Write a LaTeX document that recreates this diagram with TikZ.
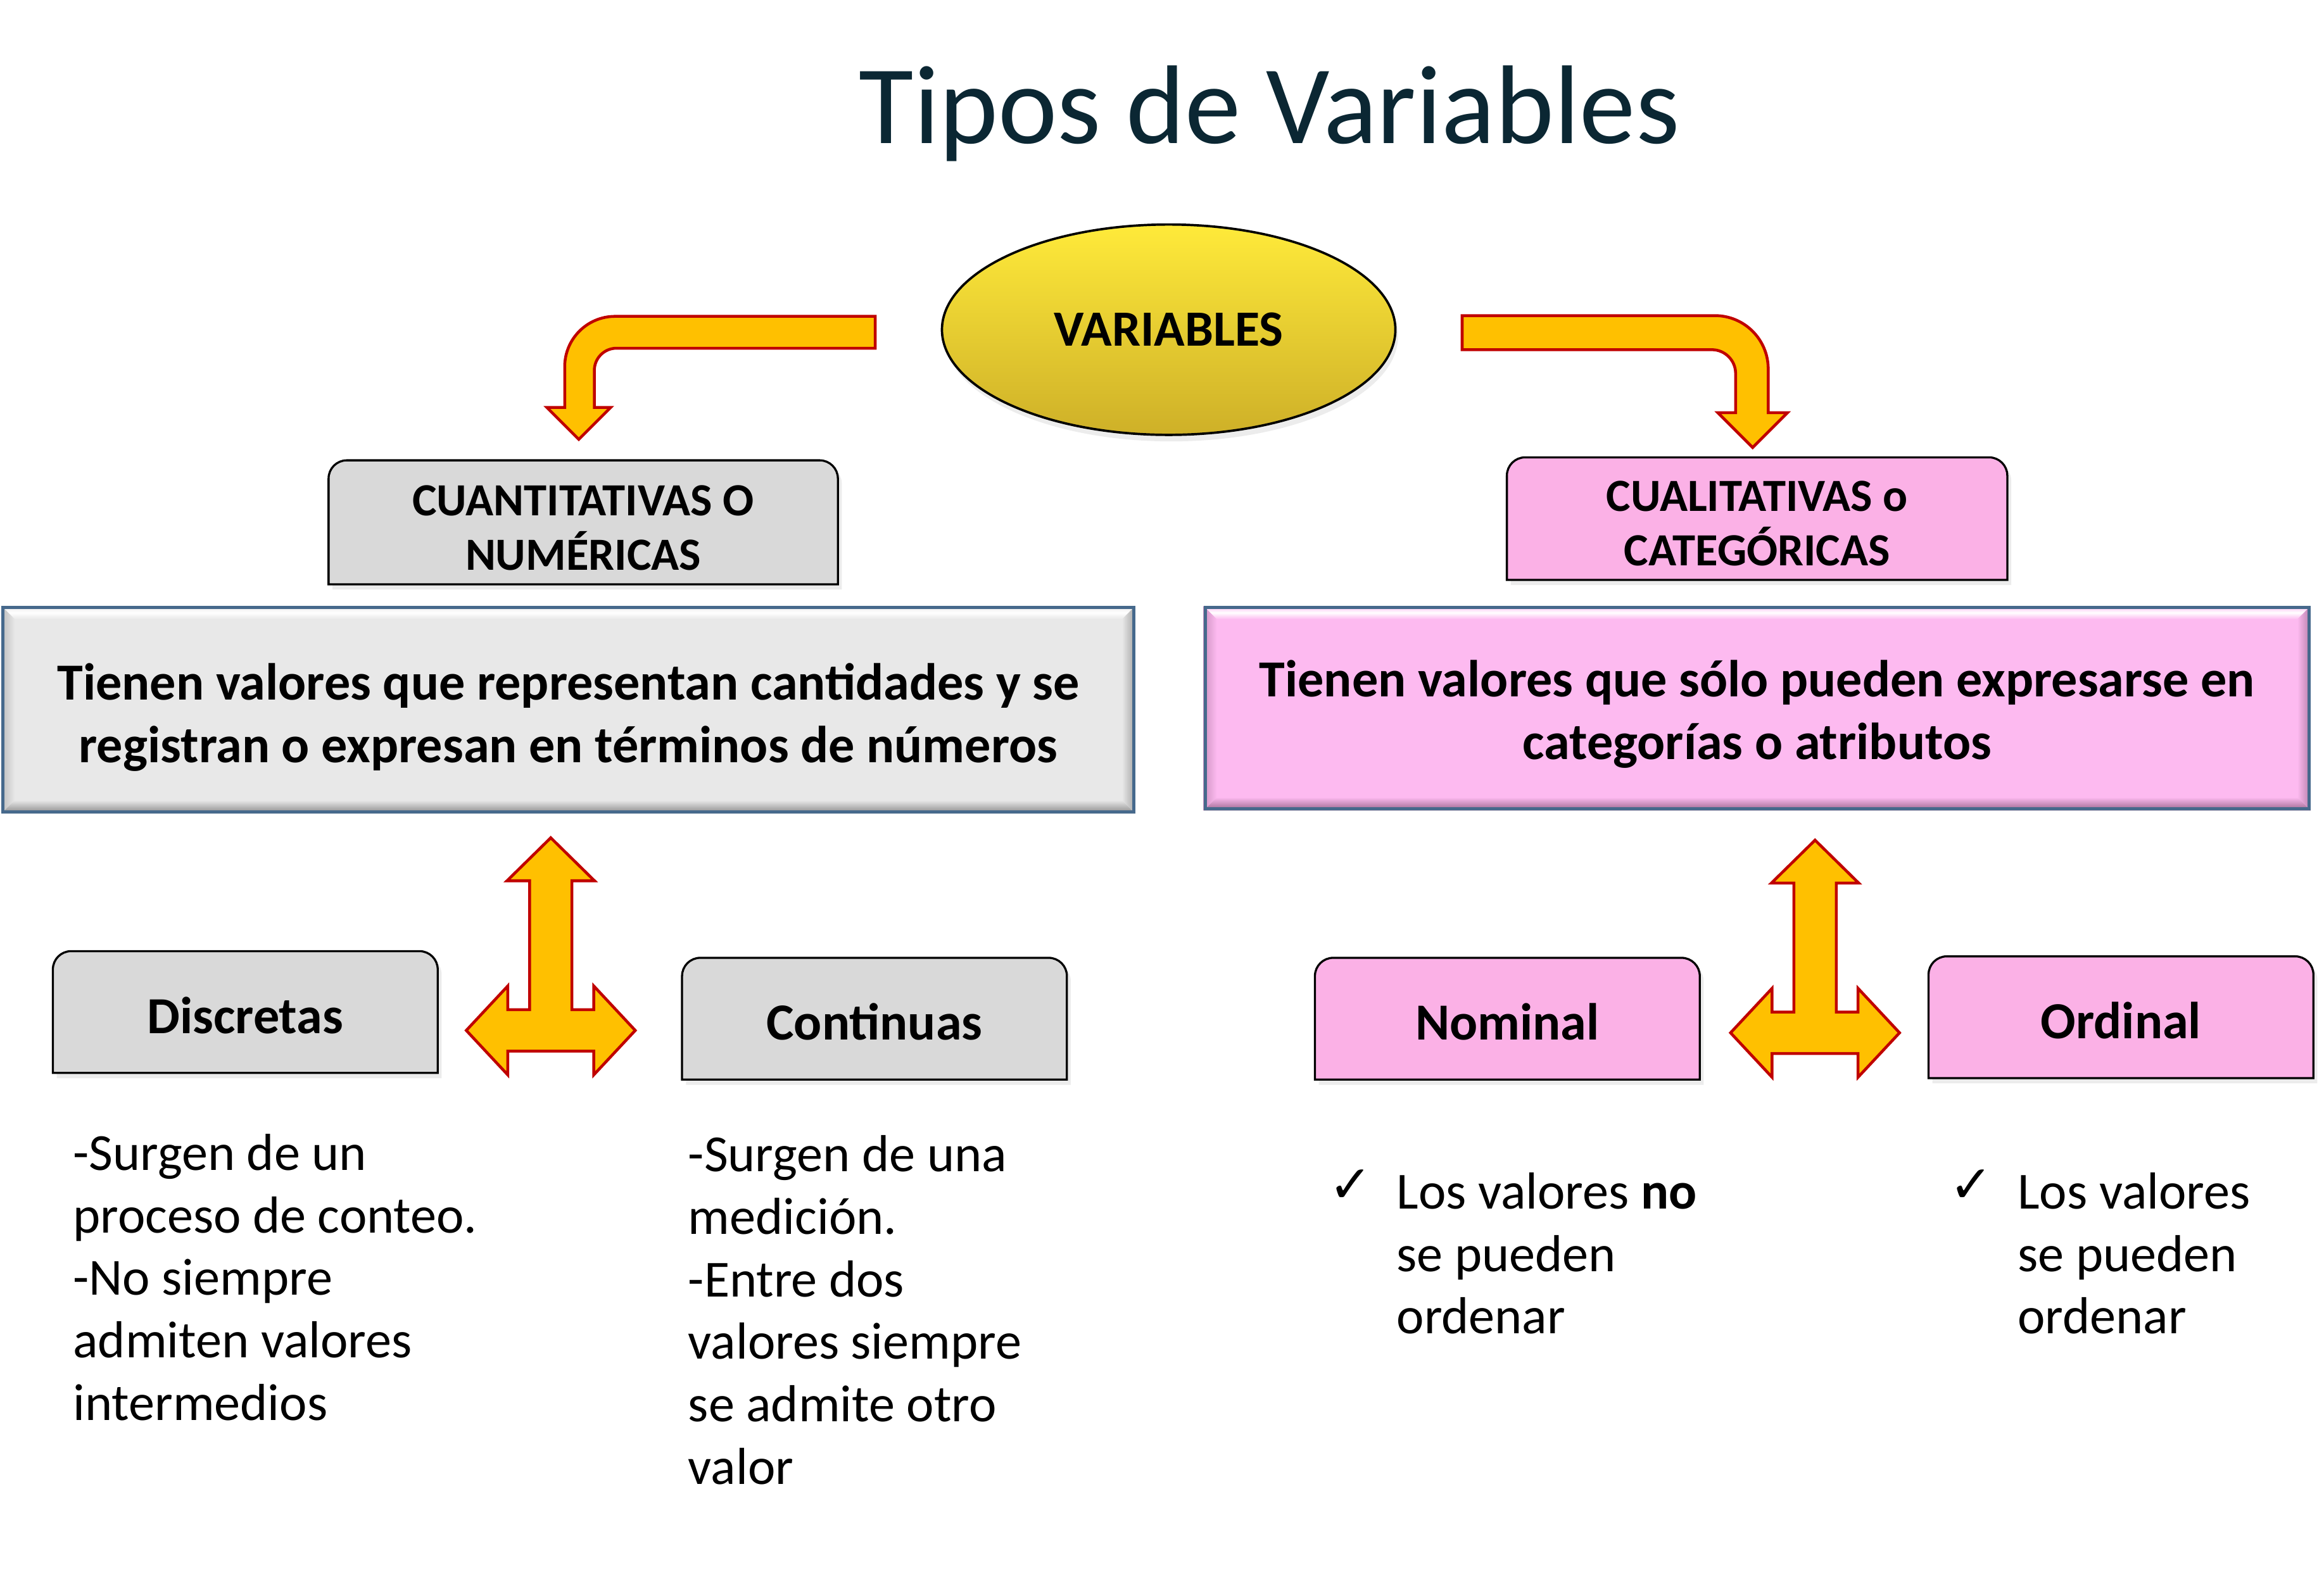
\documentclass[tikz,border=0pt]{standalone}
\usepackage{fontspec}
\setmainfont{Carlito}
\newfontfamily\symbfont{DejaVu Sans}
\usetikzlibrary{positioning, shapes.geometric, shadows, backgrounds}

\pgfdeclarelayer{canvas}
\pgfsetlayers{canvas,background,main}

\definecolor{arrowfill}{RGB}{255,192,0}
\definecolor{arrowline}{RGB}{192,0,0}
\definecolor{tabgrey}{RGB}{217,217,217}
\definecolor{tabpink}{RGB}{251,177,230}
\definecolor{biggrey}{RGB}{232,232,232}
\definecolor{biggreydark}{RGB}{135,135,135}
\definecolor{bigpink}{RGB}{253,186,240}
\definecolor{bigpinkdark}{RGB}{150,100,138}
\definecolor{bigline}{RGB}{70,105,140}
\definecolor{titleblue}{RGB}{11,39,51}
\definecolor{varstop}{RGB}{255,234,58}
\definecolor{varsbot}{RGB}{206,176,40}

\newcommand{\toplift}[1]{\rule{0pt}{#1}}

\tikzset{
  blockarrow/.style={fill=arrowfill, draw=arrowline, line width=1.1pt, line join=miter},
  tabbox/.style={inner sep=0pt, align=center, minimum width=5.18cm, minimum height=1.63cm,
    font=\bfseries\fontsize{20}{24}\selectfont, execute at begin node={\rule{0pt}{16.5pt}}},
  headbox/.style={inner sep=0pt, align=center, font=\bfseries\fontsize{17.7}{21}\selectfont},
  defbox/.style={inner sep=0pt, align=center, draw=bigline, line width=1.2pt,
    font=\bfseries\fontsize{20}{24}\selectfont},
  notes/.style={inner sep=0pt, align=left, anchor=north west, font=\fontsize{20}{24}\selectfont},
  tick/.style={inner sep=0pt, font=\symbfont\fontsize{20}{20}\selectfont},
  tarrow/.pic={
    \draw[blockarrow] (0,-130) -- (29.5,-101) -- (14.3,-101) -- (14.3,-14) -- (29,-14) -- (29,-30)
      -- (57,0) -- (29,30) -- (29,14) -- (-29,14) -- (-29,30) -- (-57,0) -- (-29,-30) -- (-29,-14)
      -- (-14.3,-14) -- (-14.3,-101) -- (-29.5,-101) -- cycle;
  }
}

\begin{document}
\begin{tikzpicture}[x=0.02cm, y=-0.02cm]
    \useasboundingbox (0,0) rectangle (1568,1064);
    \begin{pgfonlayer}{canvas}
      \fill[white] (0,0) rectangle (1568,1064);
    \end{pgfonlayer}

    % Title and root
    \node[anchor=base, text=titleblue, font=\fontsize{43}{50}\selectfont] (title) at (856.5,96.8) {Tipos de Variables};
    \node[ellipse, draw, line width=0.9pt, top color=varstop, bottom color=varsbot,
          minimum width=6.12cm, minimum height=2.84cm, font=\bfseries\fontsize{19.5}{23}\selectfont,
          drop shadow={opacity=0.15, shadow xshift=1pt, shadow yshift=-2.5pt}] (vars) at (788.5,222.5) {VARIABLES};

    % Headings
    \node[headbox, minimum width=6.86cm, minimum height=1.66cm] (cuanti) at (393.5,352.5) {\toplift{15.8pt}CUANTITATIVAS O\\NUMÉRICAS};
    \node[headbox, minimum width=6.74cm, minimum height=1.64cm] (cuali) at (1185.5,350) {\toplift{15.3pt}CUALITATIVAS o\\CATEGÓRICAS};

    % Definitions
    \node[defbox, minimum width=15.26cm, minimum height=2.76cm] (defcuanti) at (383.5,479)
      {\toplift{19.9pt}Tienen valores que representan cantidades y se\\registran o expresan en términos de números};
    \node[defbox, minimum width=14.9cm, minimum height=2.72cm] (defcuali) at (1185.5,478)
      {\toplift{18.6pt}Tienen valores que sólo pueden expresarse en\\categorías o atributos};

    % Kinds
    \node[tabbox] (disc) at (165.5,683) {Discretas};
    \node[tabbox] (cont) at (590,687.5) {Continuas};
    \node[tabbox] (nom) at (1017,687.5) {Nominal};
    \node[tabbox] (ord) at (1431,686.5) {Ordinal};

    % Notes
    \node[notes] (discnote) at (49,765) {-Surgen de un\\proceso de conteo.\\-No siempre\\admiten valores\\intermedios};
    \node[notes] (contnote) at (464,766) {-Surgen de una\\medición.\\-Entre dos\\valores siempre\\se admite otro\\valor};
    \node[notes] (nomnote) at (942,791) {Los valores \textbf{no}\\se pueden\\ordenar};
    \node[notes] (ordnote) at (1361,791) {Los valores\\se pueden\\ordenar};
    \node[tick, left=9pt of nomnote.north west, anchor=north east, yshift=1pt] (nomtick) {✓};
    \node[tick, left=9pt of ordnote.north west, anchor=north east, yshift=1pt] (ordtick) {✓};

    % Box outlines
    \begin{scope}[on background layer]
      \foreach \n/\c in {cuanti/tabgrey, cuali/tabpink, disc/tabgrey, cont/tabgrey, nom/tabpink, ord/tabpink}
        \draw[fill=\c, line width=0.8pt, drop shadow={opacity=0.15, shadow xshift=1.5pt, shadow yshift=-2pt}]
          (\n.south west) [rounded corners=7pt] -- (\n.north west) -- (\n.north east) [sharp corners] -- (\n.south east) -- cycle;
      \foreach \n/\c/\d in {defcuanti/biggrey/biggreydark, defcuali/bigpink/bigpinkdark} {
        \fill[\c] (\n.south west) rectangle (\n.north east);
        \shade[top color=\c, bottom color=\c, middle color=white]
          (\n.north west) -- (\n.north east) -- ([shift={(-9,9)}]\n.north east) -- ([shift={(9,9)}]\n.north west) -- cycle;
        \shade[left color=\d!45!\c, right color=\c]
          (\n.north west) -- ([shift={(9,9)}]\n.north west) -- ([shift={(9,-9)}]\n.south west) -- (\n.south west) -- cycle;
        \shade[top color=\c, bottom color=\d]
          (\n.south west) -- ([shift={(9,-9)}]\n.south west) -- ([shift={(-9,-9)}]\n.south east) -- (\n.south east) -- cycle;
        \shade[left color=\c, right color=\d!70!\c]
          (\n.north east) -- ([shift={(-9,9)}]\n.north east) -- ([shift={(-9,-9)}]\n.south east) -- (\n.south east) -- cycle;
      }
    \end{scope}

    % Arrows
    \draw[blockarrow] (590.5,213.5) -- (415,213.5) .. controls (396.2,213.5) and (381,228.7) .. (381,247.5)
      -- (381,275) -- (369,275) -- (390.5,296.5) -- (412,275) -- (401,275) -- (401,250)
      .. controls (401,241.7) and (407.7,235) .. (416,235) -- (590.5,235) -- cycle;
    \draw[blockarrow] (986.5,213) -- (1157,213) .. controls (1176.9,213) and (1193,229.1) .. (1193,249)
      -- (1193,278.5) -- (1206,278.5) -- (1182.5,302) -- (1159,278.5) -- (1171,278.5) -- (1171,252)
      .. controls (1171,243.2) and (1163.8,236) .. (1155,236) -- (986.5,236) -- cycle;
    \pic at (371.6,695.4) {tarrow};
    \pic at (1224.6,697) {tarrow};
\end{tikzpicture}
\end{document}
